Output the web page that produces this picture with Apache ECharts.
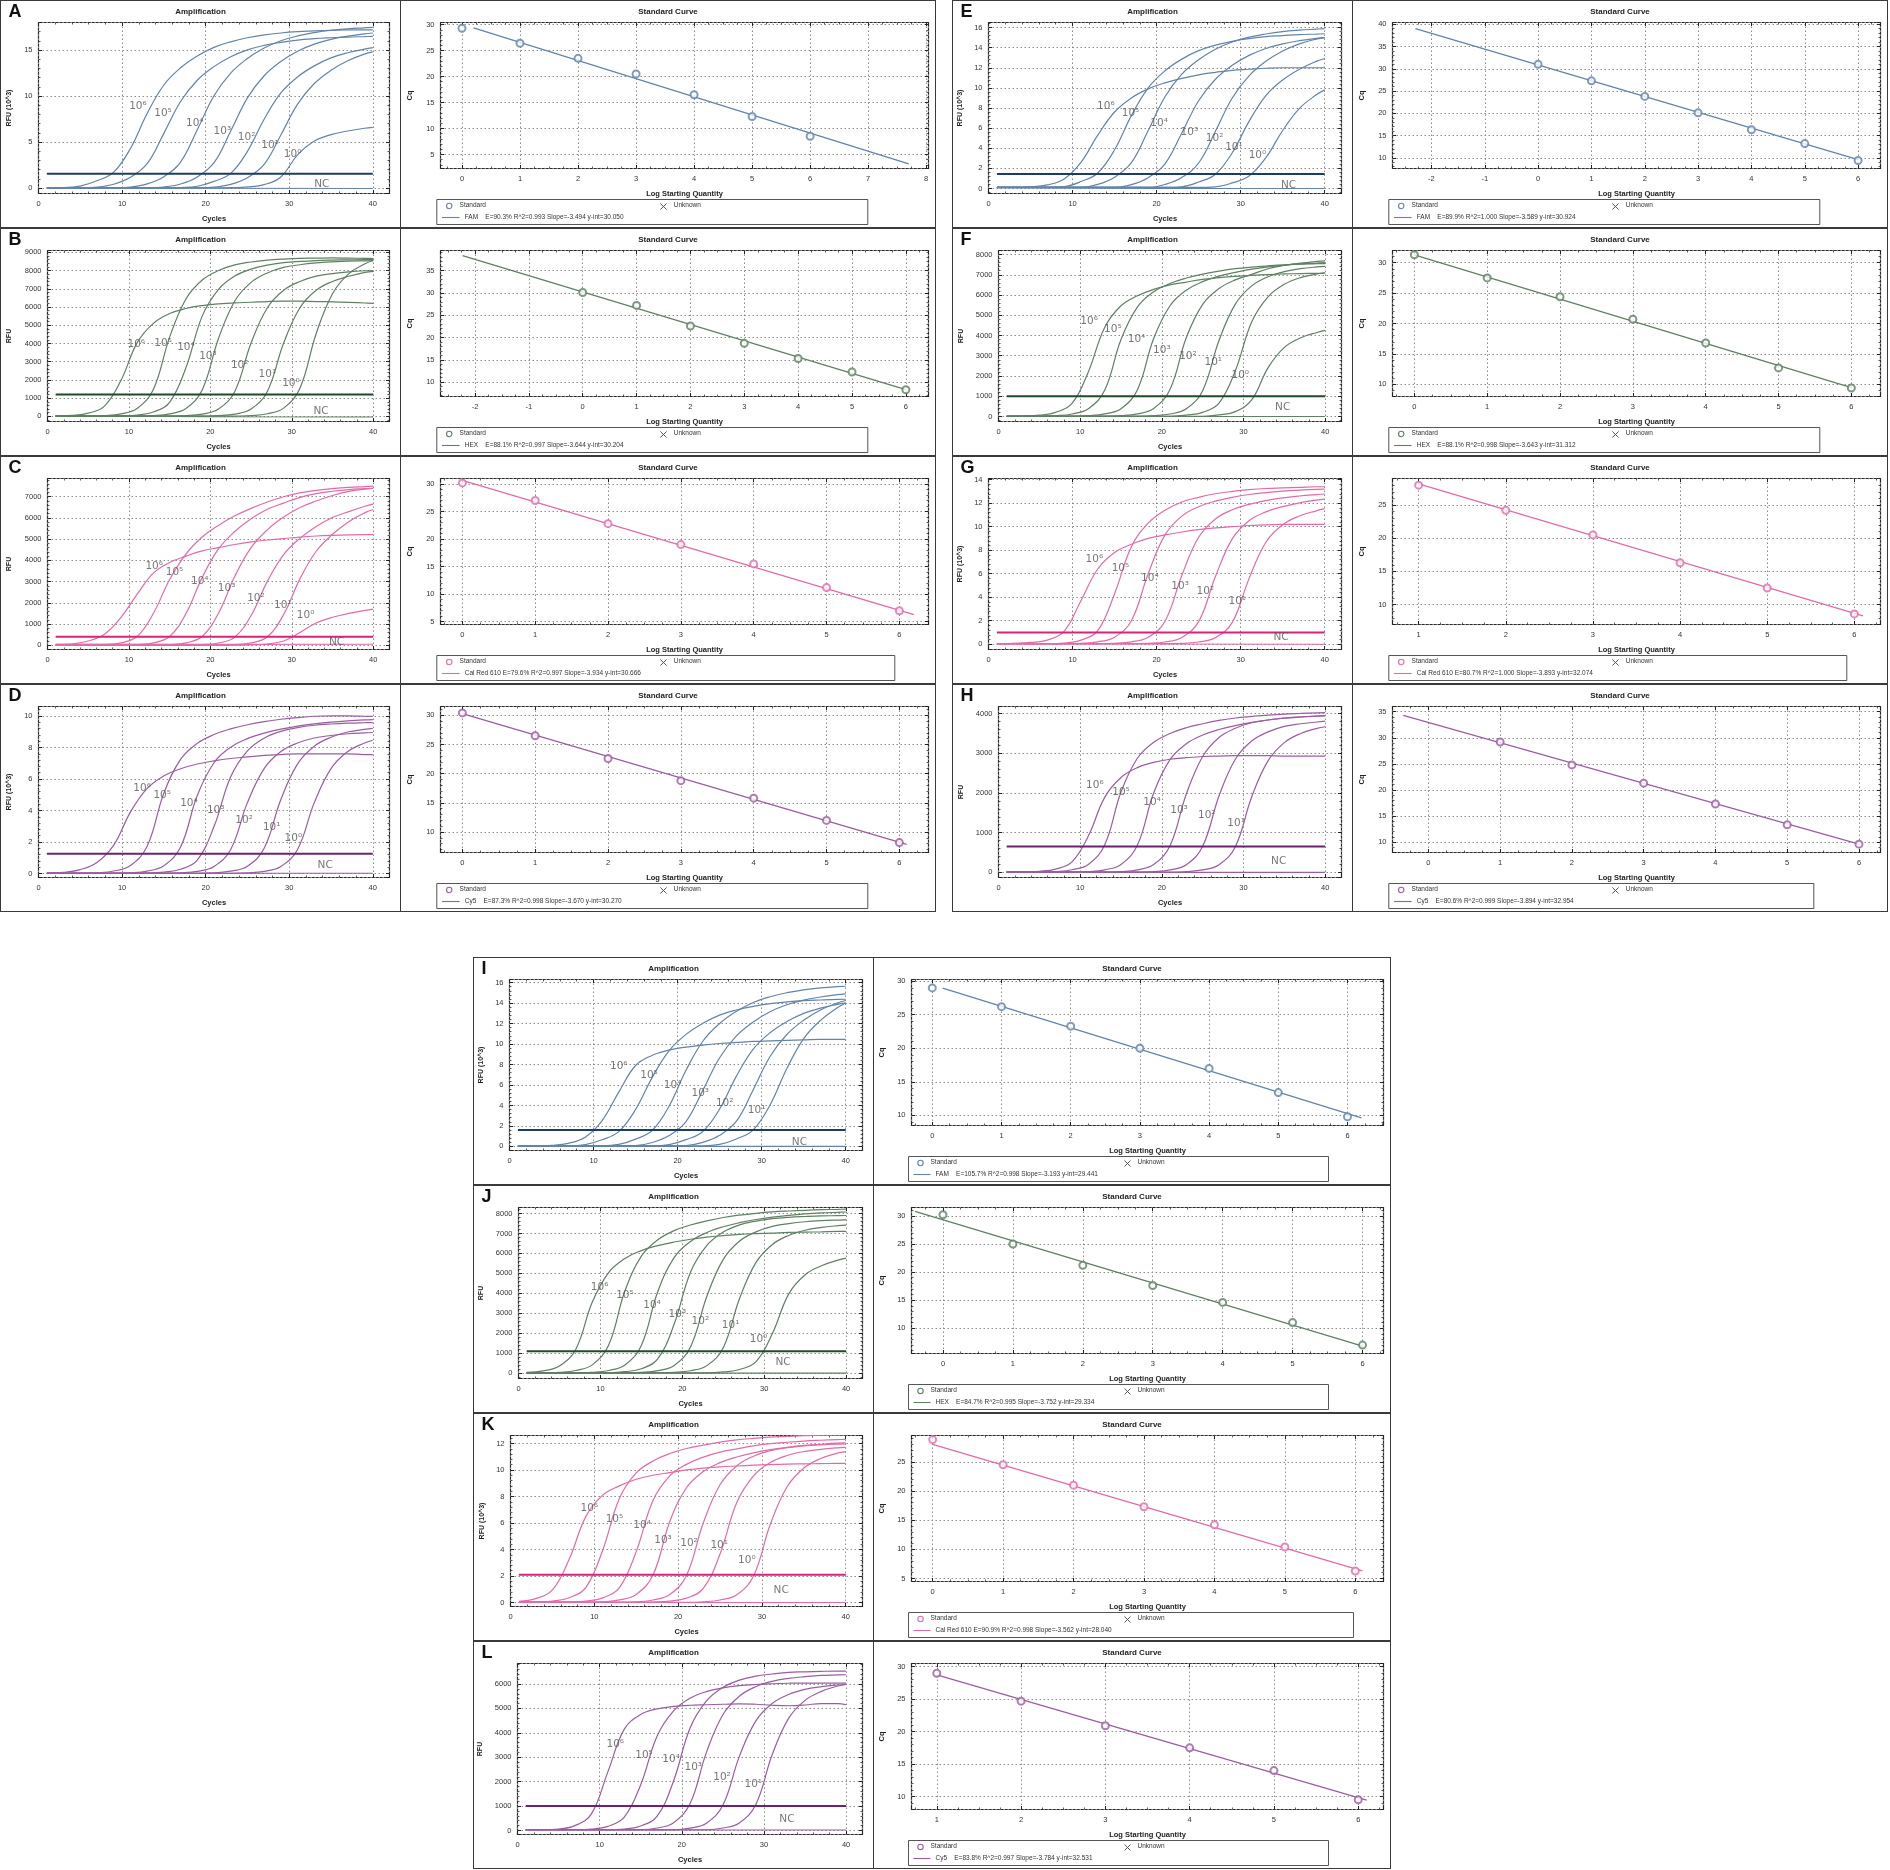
<!DOCTYPE html>
<html><head><meta charset="utf-8">
<script src="https://cdn.jsdelivr.net/npm/echarts@6/dist/echarts.min.js"></script>
<style>
html,body{margin:0;padding:0;background:#fff;}
#root{position:relative;width:1890px;height:1870px;overflow:hidden;background:#fff;}
.box{position:absolute;box-sizing:border-box;border:1.5px solid #3a3a3a;background:#fff;}
</style></head><body><div id="root"></div>
<script>
// ---------------- DATA ----------------
const cycles = [1,3,5,7,9,11,13,15,17,19,21,23,25,27,29,31,33,35,37,39,40];
const ncCycles = [1,20,40];

// Panel A (FAM, RFU x10^3)
const A_amp = [
 [0.05,0.05,0.21,0.78,1.72,4.3,8.1,11.2,13.07,14.36,15.3,15.9,16.34,16.65,16.86,17.0,17.08,17.15,17.2,17.2,17.2],
 [0.02,0.02,0.03,0.1,0.41,1.16,2.64,5.94,9.41,11.72,13.2,14.27,15.02,15.51,15.84,16.09,16.24,16.34,16.42,16.47,16.5],
 [0.02,0.02,0.02,0.02,0.02,0.1,0.44,1.23,2.82,6.34,10.03,12.5,14.08,15.22,16.02,16.54,16.9,17.16,17.32,17.42,17.48],
 [0.02,0.02,0.02,0.02,0.02,0.02,0.02,0.1,0.43,1.2,2.75,6.19,9.8,12.21,13.76,14.88,15.65,16.17,16.51,16.77,16.86],
 [0.02,0.02,0.02,0.02,0.02,0.02,0.02,0.02,0.05,0.19,0.72,1.59,3.98,7.47,10.34,12.08,13.28,14.15,14.71,15.1,15.26],
 [0.02,0.02,0.02,0.02,0.02,0.02,0.02,0.02,0.02,0.03,0.1,0.4,1.12,2.56,5.76,9.12,11.36,12.8,13.84,14.56,14.8],
 [0.02,0.02,0.02,0.02,0.02,0.02,0.02,0.02,0.02,0.02,0.02,0.04,0.12,0.36,1.2,3.6,5.1,5.8,6.2,6.5,6.6]
];
const A_nc = [0.0,-0.03,-0.05];
const A_thr = 1.55;
const A_tags = [[11.9,8.86,'10⁶'],[14.9,8.13,'10⁵'],[18.7,7.03,'10⁴'],[22.0,6.19,'10³'],[24.9,5.56,'10²'],[27.7,4.65,'10¹'],[30.4,3.66,'10⁰'],[33.9,0.44,'NC']];
const A_stdX = [0,1,2,3,4,5,6];
const A_stdY = [29.3,26.4,23.5,20.5,16.5,12.3,8.5];
const A_fit = [[0.2,29.35],[7.7,3.2]];
const A_legend = 'FAM    E=90.3% R^2=0.993 Slope=-3.494 y-int=30.050';

// Panel B (HEX, RFU)
const B_amp = [
 [20,57,176,567,1953,4032,5103,5640,5920,6080,6170,6230,6260,6300,6320,6320,6300,6280,6250,6220,6200],
 [10,10,17,44,140,435,1480,4350,6440,7480,8000,8310,8470,8570,8630,8670,8680,8690,8680,8670,8660],
 [10,10,10,10,26,77,240,774,2670,5500,6970,7700,8080,8300,8430,8500,8550,8575,8590,8600,8600],
 [10,10,10,10,10,17,43,137,428,1450,4275,6330,7350,7870,8170,8320,8420,8480,8520,8530,8540],
 [10,10,10,10,10,10,10,16,40,129,402,1370,4025,5960,6920,7400,7690,7830,7930,7990,8000],
 [10,10,10,10,10,10,10,10,10,16,40,129,402,1370,4025,5960,6920,7400,7690,7900,7960],
 [10,10,10,10,10,10,10,10,10,10,10,18,46,146,455,1550,4550,6730,7830,8370,8550]
];
const B_nc = [30,-20,-30];
const B_thr = 1200;
const B_tags = [[10.9,3930,'10⁶'],[14.2,4020,'10⁵'],[17.0,3780,'10⁴'],[19.7,3280,'10³'],[23.6,2820,'10²'],[27.0,2310,'10¹'],[29.9,1810,'10⁰'],[33.6,280,'NC']];
const B_stdX = [0,1,2,3,4,5,6];
const B_stdY = [30.1,27.2,22.6,18.7,15.3,12.3,8.3];
const B_fit = [[-2.23,38.33],[6.0,8.34]];
const B_legend = 'HEX    E=88.1% R^2=0.997 Slope=-3.644 y-int=30.204';

// Panel C (Cal Red 610, RFU)
const C_amp = [
 [20,60,200,520,1300,2400,3400,3900,4200,4450,4600,4750,4870,4960,5030,5100,5150,5180,5200,5210,5210],
 [5,5,7,30,110,410,1500,3100,4300,5100,5650,6100,6450,6750,7000,7180,7300,7380,7440,7480,7500],
 [5,5,5,5,7,30,110,410,1490,3200,4540,5360,5960,6410,6700,6970,7150,7260,7340,7380,7400],
 [5,5,5,5,5,5,8,30,113,415,1510,3250,4600,5440,6040,6490,6800,7060,7250,7360,7400],
 [5,5,5,5,5,5,5,5,7,28,105,385,1400,3010,4270,5040,5600,6020,6300,6550,6650],
 [5,5,5,5,5,5,5,5,5,5,7,29,109,400,1450,3130,4430,5230,5820,6250,6400],
 [5,5,5,5,5,5,5,5,5,5,5,5,20,60,200,600,1050,1320,1500,1640,1700]
];
const C_nc = [60,40,50];
const C_thr = 400;
const C_tags = [[13.1,3730,'10⁶'],[15.6,3460,'10⁵'],[18.7,3020,'10⁴'],[22.0,2675,'10³'],[25.6,2235,'10²'],[28.9,1890,'10¹'],[31.7,1415,'10⁰'],[35.5,160,'NC']];
const C_stdX = [0,1,2,3,4,5,6];
const C_stdY = [30.2,27.0,22.8,19.0,15.5,11.2,7.0];
const C_fit = [[0,30.67],[6.2,6.3]];
const C_legend = 'Cal Red 610 E=79.6% R^2=0.997 Slope=-3.934 y-int=30.666';

// Panel D (Cy5, RFU x10^3)
const D_amp = [
 [0.03,0.08,0.25,0.7,1.8,3.9,5.4,6.2,6.65,6.95,7.15,7.3,7.4,7.5,7.55,7.6,7.6,7.6,7.6,7.55,7.55],
 [0.02,0.02,0.02,0.05,0.16,0.51,1.73,5.1,7.24,8.26,8.82,9.18,9.44,9.64,9.79,9.9,9.98,10.0,10.0,9.98,9.97],
 [0.02,0.02,0.02,0.02,0.02,0.05,0.16,0.5,1.68,4.95,7.03,8.02,8.56,8.91,9.16,9.36,9.5,9.61,9.69,9.75,9.77],
 [0.02,0.02,0.02,0.02,0.02,0.02,0.03,0.09,0.27,0.86,2.98,6.14,7.78,8.59,9.02,9.26,9.41,9.49,9.54,9.57,9.58],
 [0.02,0.02,0.02,0.02,0.02,0.02,0.02,0.02,0.045,0.14,0.45,1.53,4.5,6.66,7.74,8.28,8.6,8.76,8.87,8.93,8.95],
 [0.02,0.02,0.02,0.02,0.02,0.02,0.02,0.02,0.02,0.02,0.05,0.15,0.47,1.6,4.7,6.96,8.08,8.65,8.98,9.15,9.21],
 [0.02,0.02,0.02,0.02,0.02,0.02,0.02,0.02,0.02,0.02,0.02,0.02,0.045,0.14,0.45,1.53,4.5,6.66,7.74,8.28,8.46]
];
const D_nc = [0.03,0.02,0.02];
const D_thr = 1.25;
const D_tags = [[12.4,5.4,'10⁶'],[14.8,4.96,'10⁵'],[18.0,4.49,'10⁴'],[21.2,4.0,'10³'],[24.6,3.36,'10²'],[27.9,2.94,'10¹'],[30.5,2.23,'10⁰'],[34.3,0.53,'NC']];
const D_stdX = [0,1,2,3,4,5,6];
const D_stdY = [30.4,26.5,22.6,18.8,15.8,12.0,8.2];
const D_fit = [[0,30.27],[6.1,7.9]];
const D_legend = 'Cy5    E=87.3% R^2=0.998 Slope=-3.670 y-int=30.270';

// Panel E (FAM, RFU x10^3)
const E_amp = [
 [0.1,0.1,0.15,0.35,0.95,2.6,5.3,7.6,9.0,9.9,10.5,10.95,11.3,11.55,11.75,11.85,11.95,12.0,12.0,12.0,12.0],
 [0.1,0.1,0.1,0.1,0.18,0.69,1.54,3.85,7.24,10.0,11.7,12.86,13.7,14.25,14.63,14.9,15.1,15.2,15.3,15.35,15.38],
 [0.1,0.1,0.1,0.1,0.1,0.1,0.4,1.12,2.56,5.76,9.12,11.36,12.8,13.84,14.56,15.04,15.36,15.6,15.74,15.84,15.89],
 [0.1,0.1,0.1,0.1,0.1,0.1,0.1,0.1,0.38,1.07,2.45,5.51,8.72,10.86,12.24,13.23,13.92,14.38,14.69,14.92,14.99],
 [0.1,0.1,0.1,0.1,0.1,0.1,0.1,0.1,0.1,0.1,0.4,1.1,2.53,5.69,9.0,11.2,12.64,13.67,14.38,14.85,15.0],
 [0.1,0.1,0.1,0.1,0.1,0.1,0.1,0.1,0.1,0.1,0.1,0.17,0.64,1.42,3.55,6.67,9.23,10.79,11.86,12.64,12.92],
 [0.1,0.1,0.1,0.1,0.1,0.1,0.1,0.1,0.1,0.1,0.1,0.1,0.1,0.15,0.55,1.23,3.06,5.76,7.96,9.31,9.8]
];
const E_nc = [0.05,0.0,0.0];
const E_thr = 1.45;
const E_tags = [[13.96,8.13,'10⁶'],[16.9,7.47,'10⁵'],[20.3,6.46,'10⁴'],[23.9,5.62,'10³'],[26.9,4.96,'10²'],[29.2,4.12,'10¹'],[32.0,3.28,'10⁰'],[35.7,0.27,'NC']];
const E_stdX = [0,1,2,3,4,5,6];
const E_stdY = [31.0,27.3,23.8,20.1,16.3,13.2,9.4];
const E_fit = [[-2.3,39.0],[6.0,9.6]];
const E_legend = 'FAM    E=89.9% R^2=1.000 Slope=-3.589 y-int=30.924';

// Panel F (HEX, RFU)
const F_amp = [
 [10,21,64,200,640,2200,4400,5470,5960,6280,6500,6640,6770,6860,6920,6970,7010,7040,7060,7070,7080],
 [10,10,10,38,122,380,1290,3800,5400,6160,6570,6840,7030,7180,7300,7380,7440,7490,7520,7550,7555],
 [10,10,10,10,10,38,123,385,1310,3850,5470,6240,6660,6930,7120,7280,7390,7480,7540,7580,7600],
 [10,10,10,10,10,10,10,39,125,390,1330,3900,5540,6320,6750,7020,7300,7460,7580,7660,7690],
 [10,10,10,10,10,10,10,10,10,38,120,375,1275,3750,5550,6450,6900,7160,7300,7390,7420],
 [10,10,10,10,10,10,10,10,10,10,10,66,204,657,2260,4670,5910,6530,6860,7040,7100],
 [10,10,10,10,10,10,10,10,10,10,10,10,10,77,240,816,2400,3410,3890,4150,4250]
];
const F_nc = [20,0,0];
const F_thr = 1000;
const F_tags = [[11.1,4680,'10⁶'],[14.0,4310,'10⁵'],[16.9,3810,'10⁴'],[20.0,3270,'10³'],[23.2,2960,'10²'],[26.3,2670,'10¹'],[29.6,2010,'10⁰'],[34.8,430,'NC']];
const F_stdX = [0,1,2,3,4,5,6];
const F_stdY = [31.3,27.5,24.4,20.7,16.8,12.7,9.4];
const F_fit = [[0,31.3],[6.0,9.45]];
const F_legend = 'HEX    E=88.1% R^2=0.998 Slope=-3.643 y-int=31.312';

// Panel G (Cal Red 610, RFU x10^3)
const G_amp = [
 [0.05,0.08,0.15,0.35,1.1,3.7,6.4,7.8,8.5,9.0,9.3,9.55,9.75,9.9,10.0,10.1,10.15,10.2,10.2,10.2,10.2],
 [0.05,0.05,0.05,0.05,0.1,0.35,1.15,4.3,8.3,10.3,11.4,12.1,12.5,12.8,13.0,13.15,13.25,13.3,13.35,13.4,13.4],
 [0.05,0.05,0.05,0.05,0.05,0.08,0.2,0.6,2.0,6.0,9.3,10.9,11.7,12.17,12.5,12.74,12.9,13.02,13.11,13.18,13.2],
 [0.05,0.05,0.05,0.05,0.05,0.05,0.05,0.08,0.2,0.59,1.95,5.85,9.1,10.66,11.44,11.9,12.22,12.45,12.61,12.73,12.78],
 [0.05,0.05,0.05,0.05,0.05,0.05,0.05,0.05,0.05,0.08,0.19,0.58,1.92,5.76,8.96,10.5,11.26,11.71,12.03,12.26,12.35],
 [0.05,0.05,0.05,0.05,0.05,0.05,0.05,0.05,0.05,0.05,0.05,0.07,0.19,0.56,1.86,5.58,8.68,10.17,10.91,11.35,11.53]
];
const G_nc = [0.05,0.02,0.0];
const G_thr = 1.0;
const G_tags = [[12.6,7.2,'10⁶'],[15.7,6.48,'10⁵'],[19.2,5.63,'10⁴'],[22.8,4.97,'10³'],[25.8,4.48,'10²'],[29.6,3.63,'10¹'],[34.8,0.63,'NC']];
const G_stdX = [1,2,3,4,5,6];
const G_stdY = [28.0,24.2,20.5,16.3,12.5,8.6];
const G_fit = [[1,28.2],[6.1,8.3]];
const G_legend = 'Cal Red 610 E=80.7% R^2=1.000 Slope=-3.893 y-int=32.074';

// Panel H (Cy5, RFU)
const H_amp = [
 [10,10,27,83,265,915,1890,2390,2640,2770,2850,2890,2920,2930,2940,2940,2940,2930,2930,2930,2930],
 [5,5,5,20,65,200,690,2025,2875,3280,3500,3645,3745,3830,3890,3930,3965,3990,4005,4020,4025],
 [5,5,5,5,5,20,64,200,680,2000,2840,3240,3460,3600,3700,3780,3840,3885,3915,3940,3950],
 [5,5,5,5,5,5,5,20,63,198,670,1975,2920,3400,3630,3770,3840,3890,3920,3935,3940],
 [5,5,5,5,5,5,5,5,5,19,62,192,655,1925,2850,3310,3540,3680,3745,3790,3810],
 [5,5,5,5,5,5,5,5,5,5,5,19,61,190,646,1900,2810,3270,3500,3630,3670]
];
const H_nc = [10,0,0];
const H_thr = 650;
const H_tags = [[11.8,2200,'10⁶'],[15.0,2020,'10⁵'],[18.8,1770,'10⁴'],[22.1,1560,'10³'],[25.5,1430,'10²'],[29.1,1230,'10¹'],[34.3,270,'NC']];
const H_stdX = [1,2,3,4,5,6];
const H_stdY = [29.2,24.8,21.3,17.3,13.3,9.6];
const H_fit = [[-0.35,34.3],[6.0,9.6]];
const H_legend = 'Cy5    E=80.6% R^2=0.999 Slope=-3.894 y-int=32.954';

// Panel I (FAM, RFU x10^3)
const I_amp = [
 [0.05,0.05,0.1,0.3,0.9,2.5,5.3,7.9,8.9,9.4,9.7,9.9,10.05,10.15,10.25,10.3,10.35,10.4,10.45,10.45,10.45],
 [0.05,0.05,0.05,0.05,0.17,0.65,1.44,3.6,6.77,9.36,10.94,12.02,12.82,13.32,13.68,13.94,14.11,14.23,14.3,14.36,14.37],
 [0.05,0.05,0.05,0.05,0.05,0.05,0.19,0.71,1.58,3.95,7.43,10.27,12.0,13.19,14.06,14.62,15.01,15.29,15.48,15.61,15.64],
 [0.05,0.05,0.05,0.05,0.05,0.05,0.05,0.09,0.38,1.06,2.43,5.47,8.66,10.79,12.16,13.15,13.83,14.29,14.59,14.82,14.9],
 [0.05,0.05,0.05,0.05,0.05,0.05,0.05,0.05,0.05,0.18,0.66,1.46,3.65,6.86,9.49,11.1,12.19,12.99,13.5,13.87,14.02],
 [0.05,0.05,0.05,0.05,0.05,0.05,0.05,0.05,0.05,0.05,0.09,0.39,1.08,2.46,5.54,8.78,10.93,12.32,13.32,14.01,14.25],
 [0.05,0.05,0.05,0.05,0.05,0.05,0.05,0.05,0.05,0.05,0.05,0.05,0.19,0.73,1.62,4.05,7.61,10.53,12.31,13.53,14.0]
];
const I_nc = [0.05,0.0,0.0];
const I_thr = 1.6;
const I_tags = [[13.0,7.8,'10⁶'],[16.6,6.98,'10⁵'],[19.4,5.99,'10⁴'],[22.7,5.18,'10³'],[25.6,4.2,'10²'],[29.4,3.53,'10¹'],[34.5,0.42,'NC']];
const I_stdX = [0,1,2,3,4,5,6];
const I_stdY = [29.0,26.2,23.3,20.0,17.0,13.4,9.8];
const I_fit = [[0.15,28.96],[6.2,9.64]];
const I_legend = 'FAM    E=105.7% R^2=0.998 Slope=-3.193 y-int=29.441';

// Panel J (HEX, RFU)
const J_amp = [
 [35,114,355,1200,3550,5040,5750,6140,6390,6570,6710,6820,6890,6950,6990,7020,7050,7065,7080,7100,7100],
 [10,10,41,132,412,1400,4125,5860,6680,7140,7425,7630,7800,7920,8010,8080,8125,8160,8190,8210,8220],
 [10,10,10,16,41,130,410,1385,4075,5790,6600,7050,7335,7540,7700,7820,7910,7980,8030,8060,8075],
 [10,10,10,10,10,24,71,221,711,2450,5060,6400,7070,7430,7620,7740,7810,7850,7880,7890,7900],
 [10,10,10,10,10,10,15,38,123,385,1310,3850,5700,6620,7080,7350,7490,7585,7640,7670,7680],
 [10,10,10,10,10,10,10,10,15,38,120,375,1275,3750,5550,6450,6900,7160,7300,7390,7420],
 [10,10,10,10,10,10,10,10,10,10,10,10,58,180,576,1985,3970,4930,5380,5660,5760]
];
const J_nc = [10,0,0];
const J_thr = 1100;
const J_tags = [[9.9,4280,'10⁶'],[13.0,3890,'10⁵'],[16.3,3400,'10⁴'],[19.4,2950,'10³'],[22.2,2600,'10²'],[25.9,2400,'10¹'],[29.3,1700,'10⁰'],[32.3,520,'NC']];
const J_stdX = [0,1,2,3,4,5,6];
const J_stdY = [30.2,25.0,21.2,17.6,14.6,11.0,7.0];
const J_fit = [[-0.4,30.8],[6.0,6.8]];
const J_legend = 'HEX    E=84.7% R^2=0.995 Slope=-3.752 y-int=29.334';

// Panel K (Cal Red 610, RFU x10^3)
const K_amp = [
 [0.09,0.29,0.95,3.26,6.5,8.1,8.8,9.3,9.6,9.8,10.0,10.14,10.24,10.3,10.36,10.4,10.44,10.46,10.48,10.5,10.5],
 [0.01,0.04,0.11,0.36,1.14,3.94,7.87,9.78,10.67,11.24,11.62,11.87,12.1,12.27,12.38,12.47,12.53,12.59,12.62,12.65,12.66],
 [0.02,0.02,0.02,0.04,0.11,0.35,1.12,3.84,7.69,9.55,10.42,10.97,11.35,11.59,11.82,11.98,12.09,12.18,12.24,12.29,12.31],
 [0.02,0.02,0.02,0.02,0.02,0.06,0.2,0.61,2.07,6.1,8.66,9.88,10.55,10.98,11.29,11.53,11.71,11.85,11.94,12.02,12.04],
 [0.02,0.02,0.02,0.02,0.02,0.02,0.02,0.06,0.19,0.6,2.04,6.0,8.88,10.32,11.04,11.46,11.68,11.82,11.9,11.95,11.96],
 [0.02,0.02,0.02,0.02,0.02,0.02,0.02,0.02,0.04,0.11,0.33,1.06,3.66,7.55,9.56,10.56,11.09,11.39,11.56,11.67,11.7],
 [0.02,0.02,0.02,0.02,0.02,0.02,0.02,0.02,0.02,0.02,0.02,0.06,0.19,0.59,2.0,5.9,8.73,10.15,10.86,11.27,11.39]
];
const K_nc = [0.05,0.0,0.0];
const K_thr = 2.1;
const K_tags = [[9.4,7.1,'10⁶'],[12.4,6.3,'10⁵'],[15.7,5.8,'10⁴'],[18.2,4.7,'10³'],[21.3,4.5,'10²'],[24.9,4.3,'10¹'],[28.2,3.2,'10⁰'],[32.3,0.9,'NC']];
const K_stdX = [0,1,2,3,4,5,6];
const K_stdY = [28.8,24.5,21.0,17.3,14.2,10.4,6.3];
const K_fit = [[0,28.0],[6.1,6.3]];
const K_legend = 'Cal Red 610 E=90.9% R^2=0.998 Slope=-3.562 y-int=28.040';

// Panel L (Cy5, RFU)
const L_amp = [
 [30,30,60,200,680,2400,4150,4750,4980,5080,5130,5150,5170,5190,5170,5130,5110,5140,5200,5200,5150],
 [30,30,30,30,55,170,545,1875,3870,4900,5415,5690,5840,5930,5980,6010,6030,6040,6040,6040,6040],
 [30,30,30,30,30,30,60,183,590,2030,4190,5305,5860,6160,6320,6410,6480,6500,6520,6530,6530],
 [30,30,30,30,30,30,30,30,100,320,1090,3200,4740,5500,5890,6110,6230,6300,6350,6370,6380],
 [30,30,30,30,30,30,30,30,30,30,97,300,1030,3025,4480,5200,5570,5780,5890,5960,5980],
 [30,30,30,30,30,30,30,30,30,30,30,30,100,310,1050,3100,4590,5330,5700,5920,5980]
];
const L_nc = [30,20,20];
const L_thr = 1000;
const L_tags = [[11.9,3530,'10⁶'],[15.4,3070,'10⁵'],[18.7,2900,'10⁴'],[21.4,2590,'10³'],[24.9,2180,'10²'],[28.7,1880,'10¹'],[32.8,455,'NC']];
const L_stdX = [1,2,3,4,5,6];
const L_stdY = [29.0,24.7,20.9,17.5,14.0,9.5];
const L_fit = [[1,28.75],[6.1,9.45]];
const L_legend = 'Cy5    E=83.8% R^2=0.997 Slope=-3.784 y-int=32.531';

// ---------------- TABLE FOR THE LIBRARY ----------------
const DATA = {
 A:{amp:A_amp,nc:A_nc,thr:A_thr,tags:A_tags,stdX:A_stdX,stdY:A_stdY,fit:A_fit,legend:A_legend},
 B:{amp:B_amp,nc:B_nc,thr:B_thr,tags:B_tags,stdX:B_stdX,stdY:B_stdY,fit:B_fit,legend:B_legend},
 C:{amp:C_amp,nc:C_nc,thr:C_thr,tags:C_tags,stdX:C_stdX,stdY:C_stdY,fit:C_fit,legend:C_legend},
 D:{amp:D_amp,nc:D_nc,thr:D_thr,tags:D_tags,stdX:D_stdX,stdY:D_stdY,fit:D_fit,legend:D_legend},
 E:{amp:E_amp,nc:E_nc,thr:E_thr,tags:E_tags,stdX:E_stdX,stdY:E_stdY,fit:E_fit,legend:E_legend},
 F:{amp:F_amp,nc:F_nc,thr:F_thr,tags:F_tags,stdX:F_stdX,stdY:F_stdY,fit:F_fit,legend:F_legend},
 G:{amp:G_amp,nc:G_nc,thr:G_thr,tags:G_tags,stdX:G_stdX,stdY:G_stdY,fit:G_fit,legend:G_legend},
 H:{amp:H_amp,nc:H_nc,thr:H_thr,tags:H_tags,stdX:H_stdX,stdY:H_stdY,fit:H_fit,legend:H_legend},
 I:{amp:I_amp,nc:I_nc,thr:I_thr,tags:I_tags,stdX:I_stdX,stdY:I_stdY,fit:I_fit,legend:I_legend},
 J:{amp:J_amp,nc:J_nc,thr:J_thr,tags:J_tags,stdX:J_stdX,stdY:J_stdY,fit:J_fit,legend:J_legend},
 K:{amp:K_amp,nc:K_nc,thr:K_thr,tags:K_tags,stdX:K_stdX,stdY:K_stdY,fit:K_fit,legend:K_legend},
 L:{amp:L_amp,nc:L_nc,thr:L_thr,tags:L_tags,stdX:L_stdX,stdY:L_stdY,fit:L_fit,legend:L_legend}
};

// ---------------- LAYOUT & STYLE ----------------
const FONT = '"Liberation Sans", Arial, sans-serif';
const COLORS = {
 FAM:{line:'#6384a8', thr:'#1d3c62'},
 HEX:{line:'#5f8063', thr:'#1f4b29'},
 CR:{line:'#e36aa9', thr:'#d6247c'},
 CY5:{line:'#9a5d9f', thr:'#6c2171'}
};
const AMP_W = 401, ROW_H = 228, BRD = 1.5;
const GROUPS = {L:[0,0,'top'], R:[952,0,'top'], B:[473,957,'bot']};
const STD_LAYOUT = {
  top:{w:536, fl:41, fr:528, lx:37.3, sc:1.035},
  bot:{w:518, fl:39, fr:510, lx:36, sc:1.0}
};
const POS = {A:['L',0],B:['L',1],C:['L',2],D:['L',3],E:['R',0],F:['R',1],G:['R',2],H:['R',3],I:['B',0],J:['B',1],K:['B',2],L:['B',3]};
const STYLE = {
 A:{ch:'FAM',unit:'RFU (10^3)',gl:39,ampY:[-0.6,18,5],stdX:[-0.37,8.04,1],stdY:[2.3,30.4,5],legW:431},
 B:{ch:'HEX',unit:'RFU',gl:48,ampY:[-280,9100,1000],stdX:[-2.64,6.42,1],stdY:[6.8,39.5,5],legW:431},
 C:{ch:'CR',unit:'RFU',gl:48,ampY:[-200,7860,1000],stdX:[-0.3,6.4,1],stdY:[4.5,31,5],legW:458},
 D:{ch:'CY5',unit:'RFU (10^3)',gl:39,ampY:[-0.25,10.6,2],stdX:[-0.3,6.4,1],stdY:[6.5,31.5,5],legW:431},
 E:{ch:'FAM',unit:'RFU (10^3)',gl:37,ampY:[-0.5,16.5,2],stdX:[-2.73,6.42,1],stdY:[7.6,40.4,5],legW:431},
 F:{ch:'HEX',unit:'RFU',gl:47,ampY:[-250,8200,1000],stdX:[-0.3,6.4,1],stdY:[8,32,5],legW:431},
 G:{ch:'CR',unit:'RFU (10^3)',gl:37,ampY:[-0.45,14.1,2],stdX:[0.7,6.3,1],stdY:[7,29,5],legW:458},
 H:{ch:'CY5',unit:'RFU',gl:47,ampY:[-130,4180,1000],stdX:[-0.5,6.3,1],stdY:[8,36,5],legW:425},
 I:{ch:'FAM',unit:'RFU (10^3)',gl:37,ampY:[-0.4,16.3,2],stdX:[-0.3,6.52,1],stdY:[8.5,30.25,5],legW:420},
 J:{ch:'HEX',unit:'RFU',gl:46,ampY:[-270,8300,1000],stdX:[-0.45,6.3,1],stdY:[5.5,31.5,5],legW:420},
 K:{ch:'CR',unit:'RFU (10^3)',gl:38,ampY:[-0.3,12.6,2],stdX:[-0.3,6.4,1],stdY:[4.5,29.5,5],legW:445},
 L:{ch:'CY5',unit:'RFU',gl:45,ampY:[-165,6840,1000],stdX:[0.7,6.3,1],stdY:[8,30.5,5],legW:420}
};

function isMul(v, step){ const r = v/step; return Math.abs(r - Math.round(r)) < 1e-6; }
function mkAxis(pos, rng, minorSplit, main, extra){
  const min = rng[0], max = rng[1], step = rng[2];
  const ax = {
    type:'value', position:pos, min:min, max:max,
    axisLine:{show:false, onZero:false},
    axisTick:{show:true, inside:true, length:3.5, lineStyle:{color:'#222', width:1}},
    minorTick:{show:true, splitNumber:minorSplit, length:2, lineStyle:{color:'#333', width:0.8}},
    splitLine:{show:main, lineStyle:{color:'#8c8c8c', width:1, type:[1.5,2.5]}},
    minorSplitLine:{show:false},
    axisLabel:{show:main, fontSize:7.5, color:'#333', fontFamily:FONT, margin:6,
               showMinLabel:isMul(min,step), showMaxLabel:isMul(max,step),
               formatter:function(v){ return String(v); }}
  };
  if (isMul(min, step)) ax.interval = step; else ax.splitNumber = Math.floor((max-min)/step + 1e-9);
  return Object.assign(ax, extra || {});
}
const nameStyle = {fontSize:7.5, fontWeight:'bold', color:'#222', fontFamily:FONT};

function buildAmp(el, id){
  const S = STYLE[id], D = DATA[id], col = COLORS[S.ch], b = BRD;
  const chart = echarts.init(el, null, {renderer:'canvas'});
  const series = D.amp.map(v => ({
    type:'line', data:cycles.map((c,i)=>[c, v[i]]), showSymbol:false, smooth:0.4,
    lineStyle:{color:col.line, width:1.2}, silent:true, z:2
  }));
  series.push({type:'line', data:ncCycles.map((c,i)=>[c, D.nc[i]]), showSymbol:false,
    lineStyle:{color:col.line, width:1.1}, silent:true, z:2});
  series.push({type:'line', data:[[cycles[0], D.thr],[cycles[cycles.length-1], D.thr]], showSymbol:false,
    lineStyle:{color:col.thr, width:2}, silent:true, z:3});
  series.push({type:'scatter', data:D.tags.map(t=>({value:[t[0],t[1]], name:t[2]})), symbolSize:1,
    itemStyle:{color:'rgba(0,0,0,0)'}, silent:true, z:5,
    label:{show:true, position:'inside', formatter:'{b}', fontSize:10.5, color:'#555', fontFamily:'"DejaVu Sans", sans-serif'}});
  const xr = [0,42,10];
  chart.setOption({
    animation:false,
    title:[
      {text:'Amplification', left:'center', top:8.5-b, padding:0, textStyle:{fontSize:8, fontWeight:'bold', color:'#222', fontFamily:FONT}},
      {text:id, left:9-b, top:3.5-b, padding:0, textStyle:{fontSize:18, fontWeight:'bold', color:'#111', fontFamily:FONT}}
    ],
    grid:{left:S.gl-b, right:AMP_W-389-b, top:23-b, bottom:ROW_H-193-b, show:true, borderColor:'#2b2b2b', borderWidth:1.2, containLabel:false, outerBoundsMode:'none'},
    xAxis:[
      mkAxis('bottom', xr, 5, true, {name:'Cycles', nameLocation:'middle', nameGap:21, nameTextStyle:nameStyle}),
      mkAxis('top', xr, 5, false)
    ],
    yAxis:[
      mkAxis('left', S.ampY, 5, true, {name:S.unit, nameLocation:'middle', nameRotate:90, nameGap:S.gl-13.5, nameTextStyle:Object.assign({}, nameStyle, {fontSize:7})}),
      mkAxis('right', S.ampY, 5, false)
    ],
    series:series
  });
}

function buildStd(el, id, LY){
  const S = STYLE[id], D = DATA[id], col = COLORS[S.ch], b = BRD, k = LY.sc;
  const chart = echarts.init(el, null, {renderer:'canvas'});
  const lx = LY.lx-b, ly = 200-b;
  const tStyle = (txt)=>({text:txt, fontSize:6.5, fill:'#333', fontFamily:FONT, verticalAlign:'middle', textVerticalAlign:'middle'});
  chart.setOption({
    animation:false,
    title:{text:'Standard Curve', left:'center', top:8.5-b, padding:0, textStyle:{fontSize:8, fontWeight:'bold', color:'#222', fontFamily:FONT}},
    grid:{left:LY.fl-b, right:LY.w-LY.fr-b, top:23-b, bottom:ROW_H-168-b, show:true, borderColor:'#2b2b2b', borderWidth:1.2, containLabel:false, outerBoundsMode:'none'},
    xAxis:[
      mkAxis('bottom', S.stdX, 4, true, {name:'Log Starting Quantity', nameLocation:'middle', nameGap:21, nameTextStyle:nameStyle}),
      mkAxis('top', S.stdX, 4, false)
    ],
    yAxis:[
      mkAxis('left', S.stdY, 5, true, {name:'Cq', nameLocation:'middle', nameRotate:90, nameGap:LY.fl-14, nameTextStyle:nameStyle}),
      mkAxis('right', S.stdY, 5, false)
    ],
    series:[
      {type:'line', data:D.fit, showSymbol:false, lineStyle:{color:col.line, width:1.3}, silent:true, z:2},
      {type:'scatter', data:D.stdX.map((x,i)=>[x, D.stdY[i]]), symbol:'emptyCircle', symbolSize:7,
       itemStyle:{color:col.line, borderColor:col.line, borderWidth:1.3}, silent:true, z:3}
    ],
    graphic:[
      {type:'rect', shape:{x:lx, y:ly, width:S.legW, height:25}, style:{fill:'#fff', stroke:'#555', lineWidth:1}, z:10},
      {type:'circle', shape:{cx:lx+12*k, cy:ly+6.5, r:2.7}, style:{fill:'#fff', stroke:col.line, lineWidth:1.1}, z:11},
      {type:'text', x:lx+22*k, y:ly+6, style:tStyle('Standard'), z:11},
      {type:'line', shape:{x1:lx+216*k, y1:ly+4, x2:lx+222*k, y2:ly+10}, style:{stroke:'#444', lineWidth:0.9}, z:11},
      {type:'line', shape:{x1:lx+222*k, y1:ly+4, x2:lx+216*k, y2:ly+10}, style:{stroke:'#444', lineWidth:0.9}, z:11},
      {type:'text', x:lx+229*k, y:ly+6, style:tStyle('Unknown'), z:11},
      {type:'line', shape:{x1:lx+5*k, y1:ly+18, x2:lx+22*k, y2:ly+18}, style:{stroke:col.line, lineWidth:1.1}, z:11},
      {type:'text', x:lx+27*k, y:ly+18, style:tStyle(D.legend), z:11}
    ]
  });
}

const root = document.getElementById('root');
Object.keys(POS).forEach(id=>{
  const g = GROUPS[POS[id][0]], row = POS[id][1], LY = STD_LAYOUT[g[2]];
  const x0 = g[0], y0 = g[1] + row*ROW_H;
  const a = document.createElement('div');
  a.className = 'box';
  a.style.left = x0+'px'; a.style.top = y0+'px'; a.style.width = AMP_W+'px'; a.style.height = ROW_H+'px';
  root.appendChild(a);
  const s = document.createElement('div');
  s.className = 'box';
  s.style.left = (x0+AMP_W-1.5)+'px'; s.style.top = y0+'px'; s.style.width = LY.w+'px'; s.style.height = ROW_H+'px';
  root.appendChild(s);
  buildAmp(a, id);
  buildStd(s, id, LY);
});
</script></body></html>
